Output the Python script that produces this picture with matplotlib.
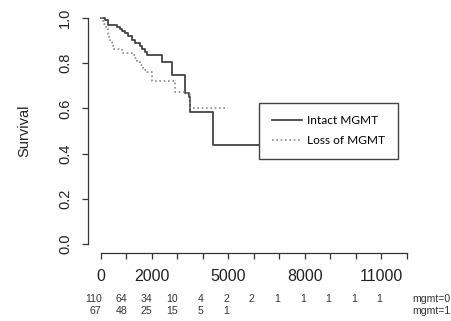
import numpy as np
import matplotlib
matplotlib.use("Agg")
import matplotlib.pyplot as plt
import matplotlib.transforms as mtransforms

# Kaplan-Meier curves
t_intact = [0, 169, 286, 639, 757, 835, 953, 1070, 1227, 1345, 1541, 1619,
            1736, 1815, 2391, 2783, 3305, 3461, 3520, 4390, 11620]
s_intact = [1.0, 0.991, 0.969, 0.960, 0.951, 0.942, 0.934, 0.920, 0.903, 0.889,
            0.876, 0.863, 0.850, 0.836, 0.804, 0.748, 0.667, 0.652, 0.585, 0.438, 0.438]

t_loss = [0, 90, 149, 208, 267, 306, 365, 443, 482, 823, 1215, 1345, 1423,
          1541, 1658, 1803, 1999, 2913, 3305, 3501, 5000]
s_loss = [1.0, 0.989, 0.973, 0.951, 0.929, 0.912, 0.894, 0.881, 0.861, 0.847,
          0.836, 0.822, 0.807, 0.792, 0.770, 0.763, 0.723, 0.674, 0.667, 0.600, 0.600]

# numbers at risk
risk_times = list(range(0, 12000, 1000))
risk_0 = [110, 64, 34, 10, 4, 2, 2, 1, 1, 1, 1, 1]
risk_1 = [67, 48, 25, 15, 5, 1]
risk_names = ["mgmt=0", "mgmt=1"]

xticks = list(range(0, 13000, 1000))
xtick_labels = ["0", "", "2000", "", "", "5000", "", "", "8000", "", "", "11000", ""]
yticks = [0.0, 0.2, 0.4, 0.6, 0.8, 1.0]
legend_labels = ["Intact MGMT", "Loss of MGMT"]

W, H = 452, 321
fig = plt.figure(figsize=(W / 100, H / 100), dpi=100)
ax = fig.add_axes([88 / W, 68 / H, 342 / W, 244 / H])

ax.step(t_intact, s_intact, where="post", color="#444444", lw=1.3, label=legend_labels[0])
ax.step(t_loss, s_loss, where="post", color="#8a8a8a", lw=1.2, ls=(0, (1, 1.6)),
        label=legend_labels[1])

ax.set_xlim(-498, 12914)
ax.set_ylim(-0.04, 1.04)
for s in ["top", "right"]:
    ax.spines[s].set_visible(False)
ax.spines["left"].set_bounds(0, 1)
ax.spines["bottom"].set_bounds(0, 12000)
for s in ["left", "bottom"]:
    ax.spines[s].set_color("#333333")
    ax.spines[s].set_linewidth(0.9)

ax.set_xticks(xticks)
ax.set_xticklabels(xtick_labels, fontsize=11.5, family="Liberation Sans", color="#222222")
ax.set_yticks(yticks)
ax.set_yticklabels(["%.1f" % v for v in yticks], fontsize=10.5, family="Liberation Sans",
                   color="#222222", rotation=90, va="center")
ax.tick_params(axis="both", direction="out", length=4.5, width=0.9, color="#333333")
ax.tick_params(axis="x", pad=7)
ax.tick_params(axis="y", pad=7)

ax.set_ylabel("Survival", fontsize=10.5, family="Liberation Sans", color="#222222")
ax.yaxis.set_label_coords(-0.167, 0.5)

leg = ax.legend(loc="upper left", bbox_to_anchor=(0.501, 0.616), borderaxespad=0,
                fancybox=False, framealpha=1, edgecolor="#444444",
                prop={"family": "Lato", "size": 8.6}, handlelength=2.5,
                handletextpad=0.45, borderpad=1.05, labelspacing=0.75)
leg.get_frame().set_linewidth(1.0)

# risk table under the axis
shift = mtransforms.ScaledTranslation(1 / 100, 0, fig.dpi_scale_trans)
tr = mtransforms.blended_transform_factory(ax.transData, fig.transFigure) + shift
for rows, yy in [(risk_0, 1 - 299 / H), (risk_1, 1 - 311 / H)]:
    for t, n in zip(risk_times, rows):
        ax.text(t, yy, str(n), transform=tr, ha="right", va="center", fontsize=7.6,
                family="Liberation Sans", color="#333333", clip_on=False)
for name, yy in zip(risk_names, [1 - 299 / H, 1 - 311 / H]):
    fig.text(412 / W, yy, name, ha="left", va="center", fontsize=7.6,
             family="Liberation Sans", color="#333333")

fig.savefig("out.png", dpi=100)
